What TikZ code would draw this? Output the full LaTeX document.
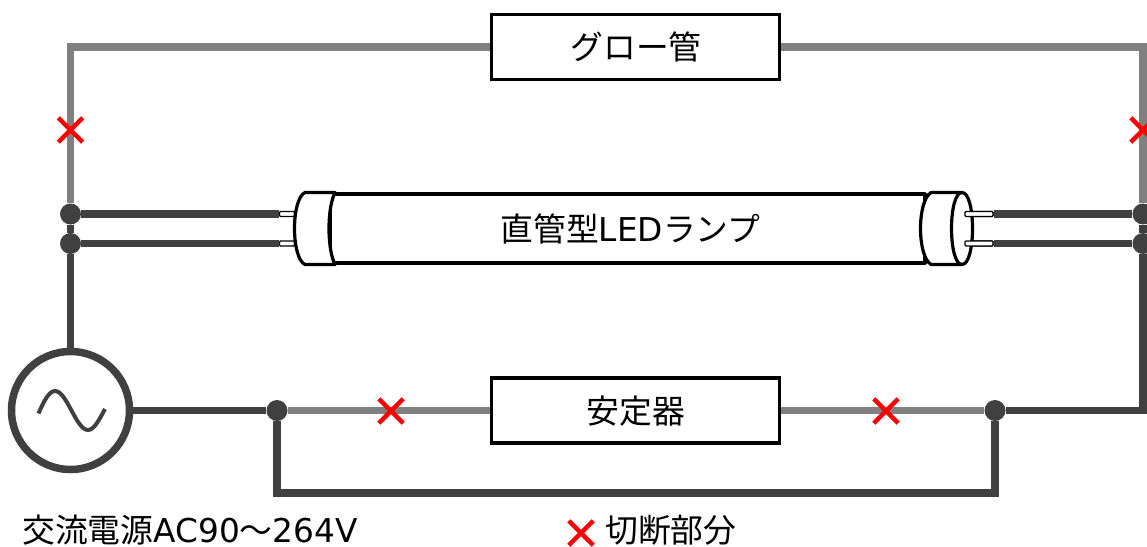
\documentclass[tikz,border=0pt]{standalone}
\usepackage{fontspec}
\setmainfont{Noto Sans CJK JP}
\newfontfamily\latinfont{DejaVu Sans}
\usetikzlibrary{shapes.misc}
\definecolor{wiredark}{HTML}{404040}
\definecolor{wiregray}{HTML}{808080}
\tikzset{
	darkwire/.style={line width=7.4pt, color=wiredark},
	graywire/.style={line width=7.4pt, color=wiregray},
	partbox/.style={draw=black, fill=white, line width=3.2pt, minimum width=288pt, minimum height=65pt, inner sep=0pt},
	junction/.style={circle, fill=wiredark, minimum size=21pt, inner sep=0pt},
	cutmark/.style={cross out, draw=red, line width=4.4pt, minimum size=20pt, inner sep=0pt},
	lamppin/.style={draw=black, fill=white, line width=1.2pt, rounded corners=1pt, minimum height=5pt, inner sep=0pt},
	lampline/.style={draw=black, fill=white, line width=3.2pt, line join=round},
	label/.style={font=\fontsize{32.8pt}{33pt}\selectfont, inner sep=0pt}
}

\begin{document}
\begin{tikzpicture}[x=1pt, y=-1pt]
			%%%%% START %%%%%
			\useasboundingbox (0, 0) rectangle (1147, 546);
			
			\node[partbox] (glow) at (635.5, 47) {};
			\node[partbox] (ballast) at (635.5, 410.5) {};
			
			\node[circle, draw=wiredark, fill=white, line width=7.5pt, minimum size=118pt, inner sep=0pt] (source) at (70.5, 410.5) {};
			
			\node[junction] (leftA) at (70.5, 214) {};
			\node[junction] (leftB) at (70.5, 243.5) {};
			\node[junction] (rightA) at (1143, 214) {};
			\node[junction] (rightB) at (1143, 243.5) {};
			\node[junction] (mainL) at (277, 410.5) {};
			\node[junction] (mainR) at (995, 410.5) {};
			
			\node[lamppin, minimum width=15pt] (pinLA) at (287, 214) {};
			\node[lamppin, minimum width=15pt] (pinLB) at (287, 243.5) {};
			\node[lamppin, minimum width=28pt] (pinRA) at (979, 214) {};
			\node[lamppin, minimum width=28pt] (pinRB) at (979, 243.5) {};
			
			\coordinate (topL) at (70.5, 47);
			\coordinate (topR) at (1143, 47);
			\coordinate (lowL) at (277, 493);
			\coordinate (lowR) at (995, 493);
			\coordinate (sideR) at (1143, 410.5);
			
			% wires
			\draw[graywire, line join=miter] (leftA) -- (topL) -- (glow);
			\draw[graywire, line join=miter] (glow) -- (topR) -- (rightA);
			\draw[graywire] (mainL) -- (ballast);
			\draw[graywire] (ballast) -- (mainR);
			
			\draw[darkwire] (leftA) -- (pinLA);
			\draw[darkwire] (leftB) -- (pinLB);
			\draw[darkwire] (rightA) -- (pinRA);
			\draw[darkwire] (rightB) -- (pinRB);
			\draw[darkwire] (leftA) -- (leftB);
			\draw[darkwire] (rightA) -- (rightB);
			\draw[darkwire] (leftB) -- (source);
			\draw[darkwire] (source) -- (mainL);
			\draw[darkwire] (mainR) -- (sideR) -- (rightB);
			\draw[darkwire] (mainL) -- (lowL) -- (lowR) -- (mainR);
			
			% lamp
			\draw[lampline] (330, 194) -- (925, 194) -- (925, 263) -- (330, 263) -- cycle;
			\draw[lampline] (305, 192.5) -- (335, 192.5) .. controls (327, 208) and (327, 249) .. (335, 264.5) -- (305, 264.5) .. controls (291, 258) and (291, 199) .. (305, 192.5) -- cycle;
			\draw[lampline] (931, 192.5) -- (962, 192.5) .. controls (976, 192.5) and (976, 264.5) .. (962, 264.5) -- (931, 264.5) .. controls (917, 256) and (917, 201) .. (931, 192.5) -- cycle;
			\draw[lampline, fill=none] (962, 192.5) .. controls (948, 192.5) and (948, 264.5) .. (962, 264.5);
			
			% redraw pin heads over the caps
			\node[lamppin, minimum width=28pt] at (pinRA) {};
			\node[lamppin, minimum width=28pt] at (pinRB) {};
			
			% sine
			\draw[line width=4pt, color=wiredark] (38.5, 413.5) .. controls (44, 401) and (49, 391) .. (55, 391) .. controls (67, 391) and (76, 430) .. (88, 430) .. controls (94, 430) and (99, 420) .. (105, 409);
			
			% cuts
			\node[cutmark] (cutL) at (70.5, 130) {};
			\node[cutmark] (cutR) at (1143, 130) {};
			\node[cutmark] (cutA) at (391, 411) {};
			\node[cutmark] (cutB) at (886, 411) {};
			\node[cutmark] (cutKey) at (581, 533) {};
			
			% labels
			\node[label] (glowtext) at (636, 47) {グロー管};
			\node[label] (ballasttext) at (636, 411) {安定器};
			\node[label] (lamptext) at (630.5, 229) {直管型{\latinfont LED}ランプ};
			\node[label, anchor=west] (sourcetext) at (22, 530) {交流電源{\latinfont AC90}〜{\latinfont 264V}};
			\node[label, anchor=west] (cuttext) at (605, 530) {切断部分};
			
			%%%%% END %%%%%
		\end{tikzpicture}
\end{document}
